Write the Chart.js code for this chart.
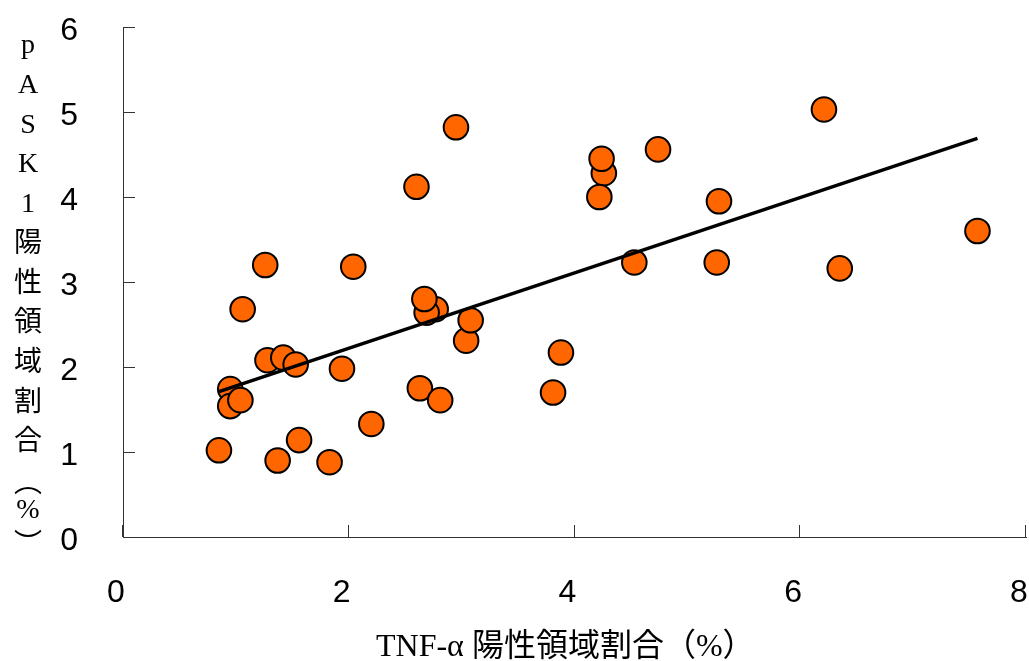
<!DOCTYPE html>
<html>
<head>
<meta charset="utf-8">
<script src="https://cdn.jsdelivr.net/npm/chart.js@4.4.1/dist/chart.umd.min.js"></script>
<style>
  html, body { margin: 0; padding: 0; background: #ffffff; }
  #wrap { width: 1029px; height: 661px; }
</style>
</head>
<body>
<div id="wrap"><canvas id="chart" width="1029" height="661"></canvas></div>
<script>
// TNF-α positive area (%) per sample
const tnfArea = [0.85, 0.95, 0.95, 1.04, 1.06, 1.26, 1.28, 1.42, 1.37, 1.53, 1.56, 1.83, 1.94, 2.04, 2.20,
                 2.60, 2.63, 2.77, 2.69, 2.67, 2.81, 2.95, 3.04, 3.08, 3.81, 3.88, 4.26, 4.22, 4.24, 4.53,
                 4.74, 5.26, 5.28, 6.21, 6.35, 7.57];
// pASK1 positive area (%) per sample
const pask1Area = [1.02, 1.74, 1.54, 1.61, 2.68, 3.20, 2.08, 2.11, 0.90, 2.03, 1.14, 0.88, 1.98, 3.18, 1.33,
                   4.12, 1.75, 2.68, 2.64, 2.80, 1.61, 4.82, 2.31, 2.55, 1.70, 2.17, 4.28, 4.00, 4.45, 3.23,
                   4.56, 3.23, 3.95, 5.03, 3.16, 3.60];
// Linear fit drawn across the data range
const trendX = [0.85, 7.57];
const trendY = [1.71, 4.69];
// Axis ranges and tick steps
const xRange = [0, 8];
const xStep = 2;
const yRange = [0, 6];
const yStep = 1;
// Axis titles
const xTitle = 'TNF-α 陽性領域割合（%）';
const yTitle = 'pASK1陽性領域割合（%）';

const scatterPoints = tnfArea.map((x, i) => ({ x: x, y: pask1Area[i] }));
const trendPoints = trendX.map((x, i) => ({ x: x, y: trendY[i] }));

const tickFont = { family: "'Liberation Sans', Arial, sans-serif", size: 32 };
const titleFont = "'Liberation Serif', 'Noto Sans CJK JP', serif";

// Keep the plot area fixed: no extra room reserved for edge tick labels
function noEdgePadding(scale) {
  scale.paddingLeft = 0;
  scale.paddingRight = 0;
  scale.paddingTop = 0;
  scale.paddingBottom = 0;
}

// Short tick marks pointing into the plot area, plus the axis titles
const axisDecor = {
  id: 'axisDecor',
  beforeDatasetsDraw(chart) {
    const { ctx, chartArea, scales } = chart;
    ctx.save();
    ctx.strokeStyle = '#333333';
    ctx.lineWidth = 1;
    scales.y.ticks.forEach(t => {
      const y = Math.round(scales.y.getPixelForValue(t.value)) + 0.5;
      ctx.beginPath();
      ctx.moveTo(chartArea.left, y);
      ctx.lineTo(chartArea.left + 12, y);
      ctx.stroke();
    });
    scales.x.ticks.forEach(t => {
      const x = Math.round(scales.x.getPixelForValue(t.value)) - 0.5;
      ctx.beginPath();
      ctx.moveTo(x, chartArea.bottom);
      ctx.lineTo(x, chartArea.bottom - 12);
      ctx.stroke();
    });
    ctx.restore();
  },
  afterDraw(chart) {
    const { ctx } = chart;
    ctx.save();
    ctx.fillStyle = '#000000';
    // horizontal title under the x axis
    ctx.font = '32px ' + titleFont;
    ctx.textAlign = 'left';
    ctx.textBaseline = 'alphabetic';
    ctx.fillText(xTitle, 376, 656);
    // stacked vertical title left of the y axis
    ctx.font = '28px ' + titleFont;
    ctx.textAlign = 'center';
    ctx.textBaseline = 'middle';
    const vertical = { '（': '︵', '）': '︶' };
    const nudge = { '（': 2, '）': 8 };
    const chars = Array.from(yTitle);
    let y = 46;
    chars.forEach((ch, i) => {
      const glyph = vertical[ch] || ch;
      ctx.fillText(glyph, 28, y + (nudge[ch] || 0));
      const next = chars[i + 1];
      y += (next === '（' || ch === '（' || ch === '%' ) ? (next === '（' ? 39.5 : 28) : 39.7;
    });
    ctx.restore();
  }
};

new Chart(document.getElementById('chart'), {
  type: 'scatter',
  data: {
    datasets: [
      {
        type: 'line',
        data: trendPoints,
        borderColor: '#000000',
        borderWidth: 3.5,
        pointRadius: 0,
        fill: false,
        order: 0
      },
      {
        type: 'scatter',
        data: scatterPoints,
        backgroundColor: '#FF6600',
        borderColor: '#000000',
        borderWidth: 2,
        pointRadius: 12.3,
        pointHoverRadius: 12.3,
        order: 1
      }
    ]
  },
  options: {
    responsive: false,
    animation: false,
    devicePixelRatio: 1,
    layout: { autoPadding: false, padding: { top: 27, right: 3, left: 0, bottom: 0 } },
    plugins: { legend: { display: false }, tooltip: { enabled: false } },
    scales: {
      x: {
        type: 'linear',
        min: xRange[0],
        max: xRange[1],
        ticks: { stepSize: xStep, font: tickFont, color: '#000000', padding: 37, labelOffset: -7 },
        grid: { display: false, drawTicks: false },
        border: { display: true, color: '#333333', width: 1 },
        afterFit(scale) { scale.height = 124; noEdgePadding(scale); }
      },
      y: {
        type: 'linear',
        min: yRange[0],
        max: yRange[1],
        ticks: { stepSize: yStep, font: tickFont, color: '#000000', padding: 45, labelOffset: 4 },
        grid: { display: false, drawTicks: false },
        border: { display: true, color: '#333333', width: 1 },
        afterFit(scale) { scale.width = 123; noEdgePadding(scale); }
      }
    }
  },
  plugins: [axisDecor]
});
</script>
</body>
</html>
